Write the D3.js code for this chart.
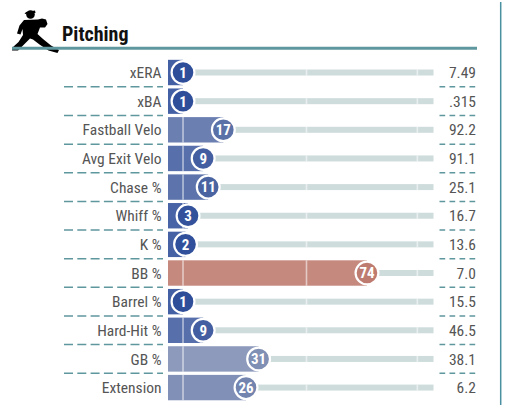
<!DOCTYPE html>
<html>
<head>
<meta charset="utf-8">
<script src="https://cdn.jsdelivr.net/npm/d3@7"></script>
<style>
  body { margin: 0; background: #fff; }
  text { font-family: "Roboto Condensed", "Liberation Sans Narrow", "Arial Narrow", Roboto, sans-serif; }
</style>
</head>
<body>
<div id="graf"></div>
<script>
// datos
metricas = ['xERA', 'xBA', 'Fastball Velo', 'Avg Exit Velo', 'Chase %', 'Whiff %', 'K %', 'BB %', 'Barrel %', 'Hard-Hit %', 'GB %', 'Extension']
percentiles = [1, 1, 17, 9, 11, 3, 2, 74, 1, 9, 31, 26]
valores = ['7.49', '.315', '92.2', '91.1', '25.1', '16.7', '13.6', '7.0', '15.5', '46.5', '38.1', '6.2']
lineasRef = [1, 50, 94]
titulo = 'Pitching'

// configuracion
ancho_total = 510
alto_total = 405
teal = '#5f979e'

svg = d3.select('#graf').append('svg')
        .attr('width', ancho_total)
        .attr('height', alto_total)

// escaladores
x = d3.scaleLinear().domain([0, 100]).range([180.5, 432.5])
y = d3.scaleBand().domain(metricas).range([58.2, 401.9])
color = d3.scaleLinear().domain([0, 50, 100])
        .range(['#2c4c99', '#b4b8c4', '#c83c14'])
barColor = v => d3.interpolateRgb(color(v), '#fff')(0.1)
cy = d => y(d) + y.bandwidth() / 2

// encabezado (silueta del lanzador)
icono = svg.append('g').attr('fill', '#000')
icono.append('circle').attr('cx', 30.5).attr('cy', 14.5).attr('r', 4.3)
icono.append('path').attr('d', 'M26,12 L35,10.5 L35.5,13 L24.5,14 Z')
icono.append('path')
        .attr('d', 'M24,20 L38,19.5 L42,18.5 L46,19.5 L47.5,24 L45,27.5 L40,27.5 L37.5,34 ' +
                'L43,39 L51,45.5 L59,50 L57.5,53 L48.5,50.5 L39.5,44.5 L33,39.5 L30,38.5 ' +
                'L24.5,44 L18,50.5 L12,50.5 L12.5,47.5 L18.5,42 L23,35 L22.5,29 L20.5,34.5 ' +
                'L17,33.5 L19.5,25.5 Z')

svg.append('text')
        .attr('x', 62).attr('y', 40.5)
        .attr('font-size', 20).attr('font-weight', 700)
        .attr('fill', '#111')
        .text(titulo)

svg.append('line')
        .attr('x1', 12).attr('x2', 477).attr('y1', 48.3).attr('y2', 48.3)
        .attr('stroke', teal).attr('stroke-width', 3)

svg.append('line')
        .attr('x1', 500.7).attr('x2', 500.7).attr('y1', 2).attr('y2', alto_total)
        .attr('stroke', '#4a90a0').attr('stroke-width', 1.5)

// separadores
sep = metricas.slice(0, -1)
svg.selectAll('.sepIzq').data(sep).join('line')
        .attr('class', 'sepIzq')
        .attr('x1', 64).attr('x2', 163)
        .attr('y1', d => y(d) + y.bandwidth()).attr('y2', d => y(d) + y.bandwidth())
        .attr('stroke', teal).attr('stroke-width', 1.5)
        .attr('stroke-dasharray', '9,4.3')
svg.selectAll('.sepDer').data(sep).join('line')
        .attr('class', 'sepDer')
        .attr('x1', 439.5).attr('x2', 477)
        .attr('y1', d => y(d) + y.bandwidth()).attr('y2', d => y(d) + y.bandwidth())
        .attr('stroke', teal).attr('stroke-width', 1.5)
        .attr('stroke-dasharray', '5.7,4.3')

filas = metricas.map((m, i) => ({ m: m, p: percentiles[i], v: valores[i] }))

// pista gris
svg.selectAll('.pista').data(filas).join('rect')
        .attr('class', 'pista')
        .attr('x', d => x(d.p)).attr('width', d => x(100) + 1 - x(d.p))
        .attr('y', d => cy(d.m) - 3).attr('height', 6)
        .attr('fill', '#cfdcdc')

// barras
svg.selectAll('.barra').data(filas).join('rect')
        .attr('class', 'barra')
        .attr('x', 168).attr('width', d => x(d.p) - 168)
        .attr('y', d => cy(d.m) - 12.7).attr('height', 25.4)
        .attr('fill', d => barColor(d.p))

// lineas de referencia
lineasRef.forEach(r => {
        svg.selectAll(null).data(filas).join('line')
                .attr('x1', x(r)).attr('x2', x(r))
                .attr('y1', d => d.p > r ? cy(d.m) - 12.7 : cy(d.m) - 3)
                .attr('y2', d => d.p > r ? cy(d.m) + 12.7 : cy(d.m) + 3)
                .attr('stroke', '#fff').attr('stroke-opacity', 0.55).attr('stroke-width', 1.6)
})

// circulos
circ = svg.selectAll('.circ').data(filas).join('g')
        .attr('class', 'circ')
        .attr('transform', d => `translate(${x(d.p)},${cy(d.m)})`)
circ.append('circle')
        .attr('r', 11.4)
        .attr('fill', d => color(d.p))
        .attr('stroke', '#fff').attr('stroke-width', 2.2)
circ.append('text')
        .attr('text-anchor', 'middle').attr('dy', '0.36em')
        .attr('font-size', 15).attr('font-weight', 700)
        .attr('fill', '#fff')
        .text(d => d.p)

// etiquetas
svg.selectAll('.etiqueta').data(filas).join('text')
        .attr('class', 'etiqueta')
        .attr('x', 161.5).attr('y', d => cy(d.m)).attr('dy', '0.36em')
        .attr('text-anchor', 'end')
        .attr('font-size', 15.5).attr('fill', '#555')
        .text(d => d.m)

svg.selectAll('.valor').data(filas).join('text')
        .attr('class', 'valor')
        .attr('x', 476).attr('y', d => cy(d.m)).attr('dy', '0.36em')
        .attr('text-anchor', 'end')
        .attr('font-size', 15.5).attr('fill', '#555')
        .text(d => d.v)
</script>
</body>
</html>
